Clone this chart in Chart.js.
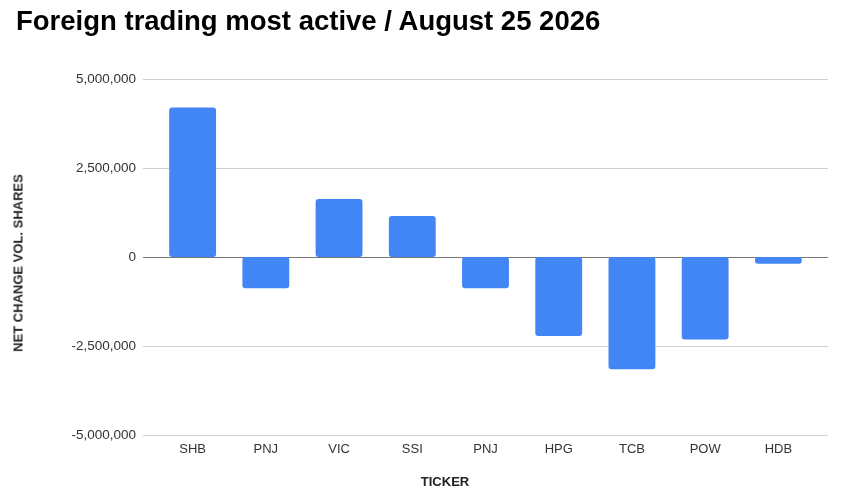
<!DOCTYPE html>
<html>
<head>
<meta charset="utf-8">
<script src="https://cdn.jsdelivr.net/npm/chart.js@4/dist/chart.umd.min.js"></script>
<style>
  html, body { margin: 0; padding: 0; background: #fff; }
  #wrap { position: relative; width: 842px; height: 498px; font-family: "Liberation Sans", Arial, sans-serif; }
  #title { position: absolute; left: 16px; top: 5px; font-size: 27.5px; font-weight: bold; color: #000; white-space: nowrap; }
  #xtitle { position: absolute; left: 445px; top: 474px; transform: translateX(-50%); font-size: 13px; font-weight: bold; color: #222; }
  #ytitle { position: absolute; left: 18px; top: 263px; transform: translate(-50%, -50%) rotate(-90deg); font-size: 13px; font-weight: bold; color: #222; white-space: nowrap; }
  canvas { position: absolute; left: 0; top: 0; }
</style>
</head>
<body>
<div id="wrap">
  <canvas id="chart" width="842" height="498"></canvas>
  <div id="title">Foreign trading most active / August 25 2026</div>
  <div id="ytitle">NET CHANGE VOL. SHARES</div>
  <div id="xtitle">TICKER</div>
</div>
<script>
const tickers = ["SHB", "PNJ", "VIC", "SSI", "PNJ", "HPG", "TCB", "POW", "HDB"]
const netChange = [4200000, -880000, 1630000, 1150000, -880000, -2220000, -3150000, -2320000, -190000]
const yTicks = [-5000000, -2500000, 0, 2500000, 5000000]

// horizontal grid lines run a bit past the bars on both sides
const gridPlugin = {
    id: "wideGrid",
    beforeDatasetsDraw(chart) {
        const ctx = chart.ctx
        const y = chart.scales.y
        const area = chart.chartArea
        ctx.save()
        y.ticks.forEach(t => {
            const py = Math.round(y.getPixelForValue(t.value)) + 0.5
            ctx.beginPath()
            ctx.strokeStyle = t.value === 0 ? "#777777" : "#d0d0d0"
            ctx.lineWidth = 1
            ctx.moveTo(area.left - 13, py)
            ctx.lineTo(area.right + 13, py)
            ctx.stroke()
        })
        ctx.restore()
    }
}

const ctx = document.getElementById("chart").getContext("2d")

new Chart(ctx, {
    type: "bar",
    data: {
        labels: tickers,
        datasets: [{
            label: "Net change",
            data: netChange,
            backgroundColor: "#4285f4",
            borderRadius: 3,
            borderSkipped: false,
            barPercentage: 0.64,
            categoryPercentage: 1
        }]
    },
    options: {
        responsive: false,
        animation: false,
        layout: { padding: { top: 79, right: 27, bottom: 0, left: 0 } },
        plugins: { legend: { display: false }, tooltip: { enabled: false } },
        scales: {
            x: {
                grid: { display: false, drawTicks: false },
                border: { display: false },
                ticks: { color: "#333", padding: 7, font: { family: "Liberation Sans", size: 13 } },
                afterFit(scale) { scale.height = 63 }
            },
            y: {
                min: -5000000,
                max: 5000000,
                afterBuildTicks(scale) { scale.ticks = yTicks.map(v => ({ value: v })) },
                grid: { display: false, drawTicks: false },
                border: { display: false },
                ticks: {
                    color: "#333",
                    padding: 20,
                    font: { family: "Liberation Sans", size: 13.5 },
                    callback: v => v.toLocaleString("en-US")
                },
                afterFit(scale) { scale.width = 156 }
            }
        }
    },
    plugins: [gridPlugin]
})
</script>
</body>
</html>
